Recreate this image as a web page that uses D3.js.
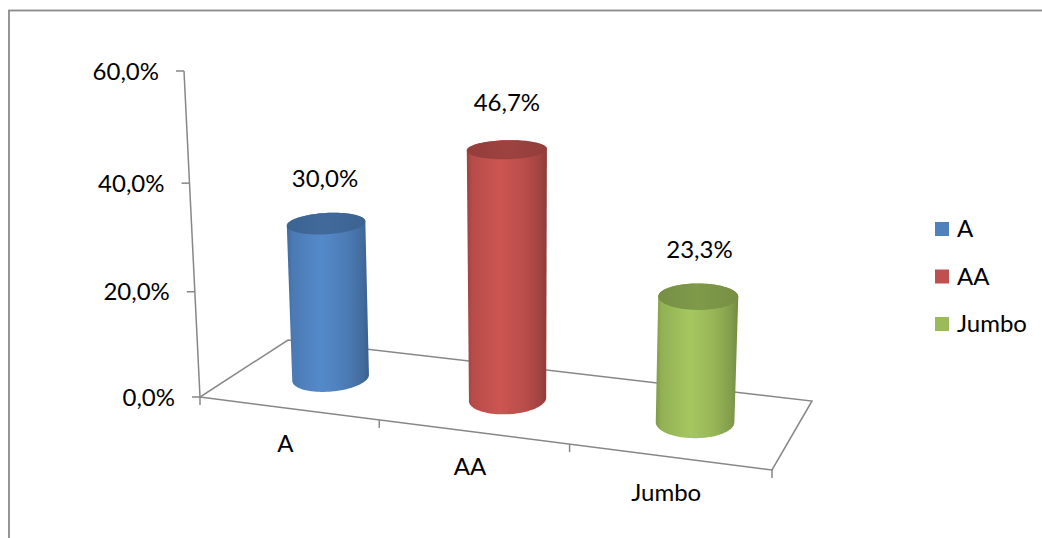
<!DOCTYPE html>
<html>
<head>
<meta charset="utf-8">
<script src="https://cdn.jsdelivr.net/npm/d3@7"></script>
<style>
  html, body { margin: 0; padding: 0; background: #fff; }
  svg { display: block; }
  text { font-family: Lato, "Open Sans", sans-serif; fill: #000; }
</style>
</head>
<body>
<svg id="chart" width="1042" height="538"></svg>
<script>
// ---- data ----
const categories = ["A", "AA", "Jumbo"];
const shares = [30.0, 46.7, 23.3];
const seriesColors = ["#4F81BD", "#C0504D", "#9BBB59"];
const valueTicks = [0, 20, 40, 60];

// ---- layout of the 3D box ----
// floor corners on screen: front-left, front-right, back-right, back-left
const floorQuad = [[200, 397], [772, 470], [812, 401], [288, 340]];
const axisTop = [184, 71];      // top of the value axis at the front-left corner
const vanishY = 7050;           // vertical vanishing point (verticals converge below)
const radiusU = 0.065, radiusV = 0.23, depthCenter = 0.5;
const fontSize = 24;

const svg = d3.select("#chart");

// projective map of the unit square onto the floor quad
function squareToQuad(p) {
  const [x0, y0] = p[0], [x1, y1] = p[1], [x2, y2] = p[2], [x3, y3] = p[3];
  const sx = x0 - x1 + x2 - x3, sy = y0 - y1 + y2 - y3;
  const dx1 = x1 - x2, dx2 = x3 - x2, dy1 = y1 - y2, dy2 = y3 - y2;
  const den = dx1 * dy2 - dx2 * dy1;
  const g = (sx * dy2 - dx2 * sy) / den;
  const h = (dx1 * sy - sx * dy1) / den;
  return { a: x1 - x0 + g * x1, b: x3 - x0 + h * x3, c: x0,
           d: y1 - y0 + g * y1, e: y3 - y0 + h * y3, f: y0, g, h };
}
const P = squareToQuad(floorQuad);
const m = (axisTop[1] - P.f) / (vanishY - axisTop[1]);
const l = m * vanishY;
const k = axisTop[0] * (1 + m) - P.c;

// (u along categories, v into depth, w up the value axis) -> screen
function project(u, v, w) {
  const den = P.g * u + P.h * v + m * w + 1;
  return [(P.a * u + P.b * v + k * w + P.c) / den,
          (P.d * u + P.e * v + l * w + P.f) / den];
}

// ---- scales ----
const xBand = d3.scaleBand().domain(categories).range([0, 1]);
const yScale = d3.scaleLinear().domain([0, 60]).range([0, 1]);
const color = d3.scaleOrdinal().domain(categories).range(seriesColors);
const locale = d3.formatLocale({ decimal: ",", thousands: ".", grouping: [3], currency: ["", "€"] });
const fmt1 = locale.format(".1f");
const pct = v => fmt1(v) + "%";

const grey = "#878787";

// chart frame
svg.append("rect")
  .attr("x", 9).attr("y", 10.5).attr("width", 1100).attr("height", 600)
  .attr("fill", "none").attr("stroke", "#8a8a8a").attr("stroke-width", 1.8);

// floor outline
const floorPts = [[0, 0], [1, 0], [1, 1], [0, 1]].map(([u, v]) => project(u, v, 0));
svg.append("path")
  .attr("d", "M" + floorPts.join("L") + "Z")
  .attr("fill", "none").attr("stroke", grey).attr("stroke-width", 1.5);

// value axis
const axisBase = project(0, 0, 0), axisEnd = project(0, 0, 1);
svg.append("line")
  .attr("x1", axisBase[0]).attr("y1", axisBase[1])
  .attr("x2", axisEnd[0]).attr("y2", axisEnd[1])
  .attr("stroke", grey).attr("stroke-width", 1.5);

const vTicks = svg.append("g").selectAll("g").data(valueTicks).join("g")
  .attr("transform", d => { const p = project(0, 0, yScale(d)); return `translate(${p[0]},${p[1]})`; });
vTicks.append("line").attr("x1", -8).attr("x2", 0)
  .attr("stroke", grey).attr("stroke-width", 1.5);
vTicks.append("text")
  .attr("x", -25).attr("dy", "0.36em")
  .attr("text-anchor", "end").attr("font-size", fontSize)
  .text(pct);

// category axis ticks along the front edge
const tickU = d3.range(categories.length + 1).map(i => i * xBand.step());
svg.append("g").selectAll("line").data(tickU).join("line")
  .attr("x1", u => project(u, 0, 0)[0]).attr("x2", u => project(u, 0, 0)[0])
  .attr("y1", u => project(u, 0, 0)[1]).attr("y2", u => project(u, 0, 0)[1] + 8)
  .attr("stroke", grey).attr("stroke-width", 1.5);

// category labels
svg.append("g").selectAll("text").data(categories).join("text")
  .attr("x", c => project(xBand(c) + xBand.bandwidth() / 2, 0, 0)[0] - 3)
  .attr("y", c => project(xBand(c) + xBand.bandwidth() / 2, 0, 0)[1] + 35)
  .attr("dy", "0.36em")
  .attr("text-anchor", "middle").attr("font-size", fontSize)
  .text(c => c);

// shading for the cylinder walls
const defs = svg.append("defs");
categories.forEach((c, i) => {
  const base = d3.color(color(c));
  const grad = defs.append("linearGradient").attr("id", "side" + i)
    .attr("x1", "0").attr("x2", "1").attr("y1", "0").attr("y2", "0");
  [[0, base.darker(0.55)], [0.07, base.darker(0.15)], [0.42, base.brighter(0.18)],
   [0.72, base.darker(0.1)], [0.92, base.darker(0.5)], [1, base.darker(0.85)]]
    .forEach(([o, col]) => grad.append("stop").attr("offset", o).attr("stop-color", col.formatHex()));
  const tgrad = defs.append("linearGradient").attr("id", "top" + i)
    .attr("x1", "0").attr("x2", "1").attr("y1", "0").attr("y2", "0");
  [[0, base.darker(0.75)], [0.5, base.darker(0.55)], [1, base.darker(0.75)]]
    .forEach(([o, col]) => tgrad.append("stop").attr("offset", o).attr("stop-color", col.formatHex()));
});

// cylinders
const ring = (uc, w) => d3.range(96).map(j => {
  const t = 2 * Math.PI * j / 96;
  return project(uc + radiusU * Math.cos(t), depthCenter + radiusV * Math.sin(t), w);
});
const bars = svg.append("g").selectAll("g").data(categories).join("g");
bars.each(function (c, i) {
  const g = d3.select(this);
  const uc = xBand(c) + xBand.bandwidth() / 2;
  const w = yScale(shares[i]);
  const bottom = ring(uc, 0), top = ring(uc, w);
  const hull = d3.polygonHull(bottom.concat(top));
  g.append("path").attr("d", "M" + hull.join("L") + "Z").attr("fill", `url(#side${i})`);
  g.append("path").attr("d", "M" + top.join("L") + "Z").attr("fill", `url(#top${i})`);
});

// value labels above the cylinders
svg.append("g").selectAll("text").data(categories).join("text")
  .attr("x", (c, i) => project(xBand(c) + xBand.bandwidth() / 2, depthCenter, yScale(shares[i] + 8.5))[0])
  .attr("y", (c, i) => project(xBand(c) + xBand.bandwidth() / 2, depthCenter, yScale(shares[i] + 8.5))[1])
  .attr("dy", "0.36em")
  .attr("text-anchor", "middle").attr("font-size", fontSize)
  .text((c, i) => pct(shares[i]));

// legend
const legend = svg.append("g").attr("transform", "translate(935,222)")
  .selectAll("g").data(categories).join("g")
  .attr("transform", (c, i) => `translate(0,${i * 47.5})`);
legend.append("rect").attr("width", 14).attr("height", 14).attr("fill", c => color(c));
legend.append("text").attr("x", 22).attr("y", 15).attr("font-size", fontSize).text(c => c);
</script>
</body>
</html>
